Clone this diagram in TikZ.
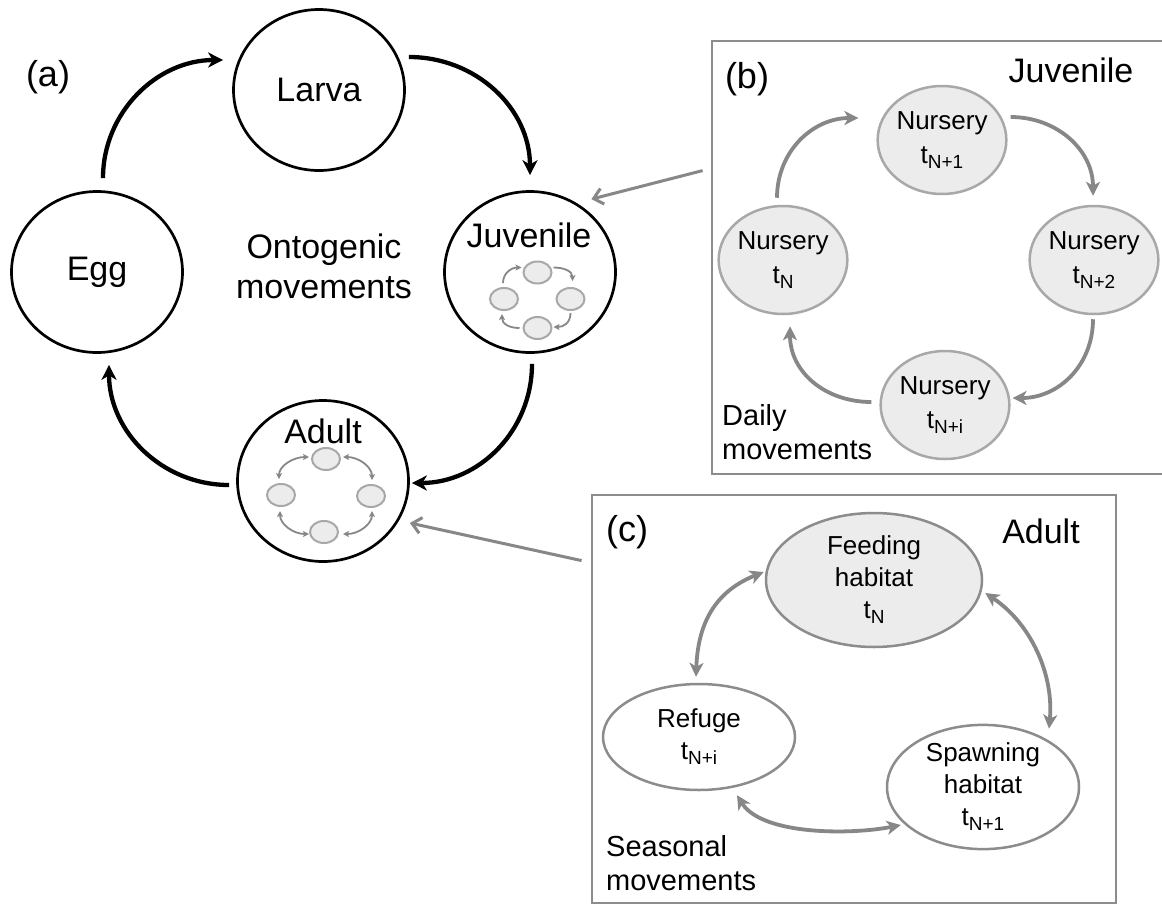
\documentclass[tikz,border=0pt]{standalone}
\usepackage{fontspec}
\setmainfont{Liberation Sans}
\usetikzlibrary{shapes.geometric,arrows.meta,calc}
\definecolor{boxgray}{RGB}{140,140,140}
\definecolor{arrgray}{RGB}{135,135,135}
\definecolor{ellgray}{RGB}{168,168,168}
\definecolor{ellfill}{RGB}{236,236,236}
\newcommand\tsub[1]{t\raisebox{-5pt}{\fontsize{19}{19}\selectfont #1}}
\begin{document}
\begin{tikzpicture}[x=1pt,y=-1pt,
  stage/.style={ellipse,draw=black,line width=2.7pt,minimum width=171pt,minimum height=161pt,inner sep=0pt,font=\fontsize{34}{40}\selectfont},
  bigtxt/.style={inner sep=0pt,font=\fontsize{34}{40}\selectfont},
  lbltxt/.style={inner sep=0pt,font=\fontsize{36}{40}\selectfont},
  midtxt/.style={inner sep=0pt,font=\fontsize{29}{34}\selectfont,align=left},
  frame/.style={draw=boxgray,line width=2.8pt,inner sep=0pt},
  nursery/.style={ellipse,draw=ellgray,fill=ellfill,line width=2.5pt,minimum width=122pt,minimum height=108pt,inner sep=0pt,align=center,font=\fontsize{26}{34}\selectfont},
  habitat/.style={ellipse,draw=boxgray,line width=2.5pt,inner sep=0pt,align=center,font=\fontsize{26}{32}\selectfont},
  tiny/.style={ellipse,draw=ellgray,fill=ellfill,line width=2pt,minimum width=28pt,minimum height=22pt,inner sep=0pt},
  bigarrow/.style={line width=4.3pt,-{Stealth[length=15pt,width=15pt,inset=4.5pt]}},
  grayarrow/.style={draw=arrgray,line width=3.8pt,-{Stealth[length=14pt,width=14pt,inset=4pt]}},
  graydouble/.style={draw=arrgray,line width=3.8pt,{Stealth[length=14pt,width=14pt,inset=4pt]}-{Stealth[length=14pt,width=14pt,inset=4pt]}},
  pointer/.style={draw=arrgray,line width=3pt,-{Straight Barb[length=9pt,width=16pt]}},
  tinyarrow/.style={draw=arrgray,line width=1.8pt,-{Stealth[length=6pt,width=6pt,inset=1.5pt]}},
  tinydouble/.style={draw=arrgray,line width=1.8pt,{Stealth[length=6pt,width=6pt,inset=1.5pt]}-{Stealth[length=6pt,width=6pt,inset=1.5pt]}}
]
\useasboundingbox (0,0) rectangle (1162,905);
\clip (0,0) rectangle (1162,905);
\fill[white] (0,0) rectangle (1162,905);

% ---------- panel (a) ----------
\node[lbltxt] (alab) at (48,77) {(a)};
\node[stage] (egg) at (97,272) {Egg};
\node[stage] (larva) at (319,90) {Larva};
\node[stage] (juv) at (530,272) {};
\node[stage] (adult) at (323,481) {};
\node[bigtxt,anchor=base] (juvtxt) at (529,247) {Juvenile};
\node[bigtxt,anchor=base] (adulttxt) at (323,443) {Adult};
\node[bigtxt,align=center] (onto) at (324,266) {Ontogenic\\movements};

\draw[bigarrow] ($(egg.north)+(6,-12)$) .. controls +(0,-66) and +(-66,0) .. ($(larva.west)+(-9,-30)$);
\draw[bigarrow] ($(larva.east)+(3,-33)$) .. controls +(67,0) and +(0,-67) .. ($(juv.north)+(0,-15)$);
\draw[bigarrow] ($(juv.south)+(2,10)$) .. controls +(0,67) and +(67,0) .. ($(adult.east)+(2,2)$);
\draw[bigarrow] ($(adult.west)+(-7,4)$) .. controls +(-67,0) and +(0,67) .. ($(egg.south)+(12,11)$);

% juvenile inner cycle
\node[tiny] (jt) at (537.5,272.5) {};
\node[tiny] (jl) at (504,299) {};
\node[tiny] (jr) at (570.5,299) {};
\node[tiny] (jb) at (537.5,328) {};
\draw[tinyarrow] ($(jl.north)+(-1,-4)$) .. controls +(0,-10) and +(-10,0) .. ($(jt.west)+(-1,-5)$);
\draw[tinyarrow] ($(jt.east)+(1,-5)$) .. controls +(10,0) and +(0,-10) .. ($(jr.north)+(2,-6)$);
\draw[tinyarrow] ($(jr.south)+(0,2)$) .. controls +(0,10) and +(10,0) .. ($(jb.east)+(1,-1)$);
\draw[tinyarrow] ($(jb.west)+(-3,0)$) .. controls +(-10,0) and +(0,10) .. ($(jl.south)+(-2,3)$);

% adult inner cycle
\node[tiny] (at) at (326,459) {};
\node[tiny] (al) at (281,495) {};
\node[tiny] (ar) at (371,496) {};
\node[tiny] (ab) at (324,532) {};
\draw[tinydouble] ($(at.west)+(-2,-2)$) .. controls +(-16,0) and +(0,-13) .. ($(al.north)+(-2,-4)$);
\draw[tinydouble] ($(at.east)+(2,-2)$) .. controls +(16,0) and +(0,-13) .. ($(ar.north)+(1,-4)$);
\draw[tinydouble] ($(al.south)+(-1,4)$) .. controls +(0,13) and +(-16,0) .. ($(ab.west)+(0,2)$);
\draw[tinydouble] ($(ar.south)+(1,3)$) .. controls +(0,13) and +(16,0) .. ($(ab.east)+(4,2)$);

% ---------- panel (b) ----------
\node[frame,minimum width=458pt,minimum height=433pt] (boxb) at (941,257.5) {};
\node[lbltxt] (blab) at (747,79) {(b)};
\node[bigtxt,anchor=base] (bjuv) at (1071,82) {Juvenile};
\node[nursery] (n1) at (942,140) {Nursery\\\tsub{N+1}};
\node[nursery] (n0) at (783,260) {Nursery\\\tsub{N}};
\node[nursery] (n2) at (1094,260) {Nursery\\\tsub{N+2}};
\node[nursery] (ni) at (945,405) {Nursery\\\tsub{N+i}};
\node[midtxt,anchor=north west] (daily) at (722,404) {Daily\\movements};

\draw[grayarrow] ($(n0.north)+(-6,-7)$) .. controls +(0,-46) and +(-46,0) .. ($(n1.west)+(-18,-22)$);
\draw[grayarrow] ($(n1.east)+(3,-23)$) .. controls +(46,0) and +(0,-46) .. ($(n2.north)+(-1,-9)$);
\draw[grayarrow] ($(n2.south)+(-1,4)$) .. controls +(0,46) and +(46,0) .. ($(ni.east)+(2,-7)$);
\draw[grayarrow] ($(ni.west)+(-8,-3)$) .. controls +(-46,0) and +(0,46) .. ($(n0.south)+(7,11)$);

\draw[pointer] ($(boxb.north west)+(-8,131)$) -- ($(juv.north east)+(0,-15)$);

% ---------- panel (c) ----------
\node[frame,minimum width=524pt,minimum height=408pt] (boxc) at (854,699) {};
\node[lbltxt] (clab) at (627,532) {(c)};
\node[bigtxt,anchor=base] (cadult) at (1041,543) {Adult};
\node[habitat,fill=ellfill,minimum width=216pt,minimum height=134pt] (feed) at (874,580) {Feeding\\habitat\\\tsub{N}};
\node[habitat,minimum width=192pt,minimum height=106pt] (refuge) at (699,737) {Refuge\\\tsub{N+i}};
\node[habitat,minimum width=192pt,minimum height=124pt] (spawn) at (983,787) {Spawning\\habitat\\\tsub{N+1}};
\node[midtxt,anchor=north west] (seasonal) at (606,835) {Seasonal\\movements};

\draw[graydouble] ($(feed.west)+(-1,-8)$) .. controls +(-45,18) and +(2,-58) .. ($(refuge.north)+(-3,-6)$);
\draw[graydouble] ($(feed.east)+(2,13)$) .. controls +(45,30) and +(5,-55) .. ($(spawn.north)+(66,5)$);
\draw[graydouble] ($(refuge.south)+(38,4)$) .. controls +(25,40) and +(-50,10) .. ($(spawn.west)+(15,38)$);

\draw[pointer] ($(boxc.north west)+(-9,67)$) -- ($(adult.east)+(0,42)$);
\end{tikzpicture}
\end{document}
